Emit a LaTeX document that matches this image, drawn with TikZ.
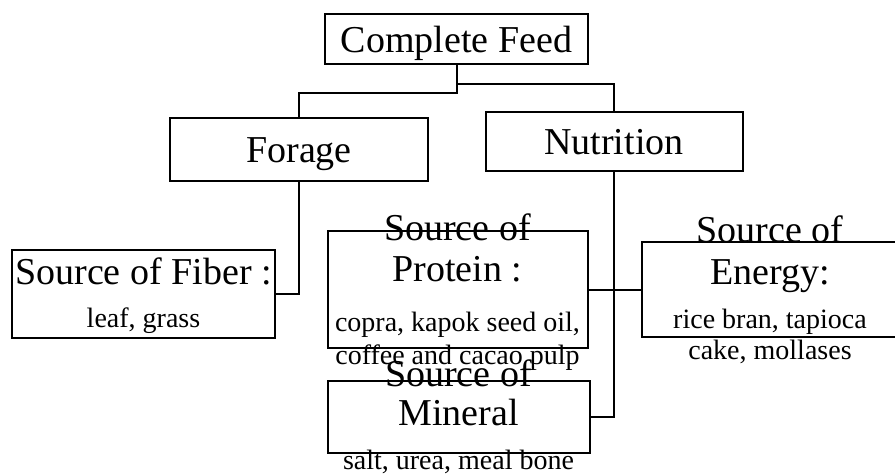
\documentclass[tikz,border=0pt]{standalone}
\usepackage{fontspec}
\setmainfont{Liberation Serif}
\newcommand{\titlesize}{\fontsize{38}{47}\selectfont}
\newcommand{\notesize}{\fontsize{28}{34}\selectfont}

\begin{document}
\begin{tikzpicture}[x=1pt,y=-1pt,
	box/.style={draw,line width=2pt,inner sep=0pt},
	head/.style={box,font=\titlesize,text height=26pt,text depth=0pt},
	txt/.style={align=center,inner sep=0pt,font=\notesize},
	wire/.style={line width=2pt}]
	
	% Frame
	\useasboundingbox (0,0) rectangle (895,474);
	
	% Upper boxes
	\node[head,minimum width=263pt,minimum height=50pt] (feed) at (456.5,39) {Complete Feed};
	\node[head,minimum width=258pt,minimum height=63pt] (forage) at (299,149.5) {Forage};
	\node[head,minimum width=257pt,minimum height=59pt] (nutr) at (614,141.5) {Nutrition};
	
	% Lower boxes
	\node[box,minimum width=263pt,minimum height=88pt] (fiber) at (143.5,294) {};
	\node[box,minimum width=260pt,minimum height=117pt] (protein) at (457.5,289.5) {};
	\node[box,minimum width=256pt,minimum height=95pt] (energy) at (770,289.5) {};
	\node[box,minimum width=262pt,minimum height=72pt] (mineral) at (458.5,417) {};
	
	% Texts of the lower boxes
	\node[txt,yshift=-1.5pt] (fibertxt) at (fiber) {{\titlesize Source of Fiber :}\\[9pt]leaf, grass};
	\node[txt,yshift=-3pt] (proteintxt) at (protein) {{\titlesize Source of}\\[7pt]{\titlesize Protein :}\\[16pt]copra, kapok seed oil,\\[-1pt]coffee and cacao pulp};
	\node[txt] (energytxt) at (energy) {{\titlesize Source of}\\[8pt]{\titlesize Energy:}\\[10pt]rice bran, tapioca\\[-3pt]cake, mollases};
	\node[txt] (mineraltxt) at (mineral) {{\titlesize Source of}\\[5pt]{\titlesize Mineral}\\[10pt]salt, urea, meal bone};
	
	% Connectors
	\draw[wire] (feed.south) -- ++(0,28) -| (forage.north);
	\draw[wire] (feed.south) ++(0,19) -| (nutr.north);
	\draw[wire] (forage.south) |- (fiber.east);
	\draw[wire] (nutr.south) |- (mineral.east);
	\draw[wire] (protein.east) -- (energy.west);
	
\end{tikzpicture}
\end{document}
